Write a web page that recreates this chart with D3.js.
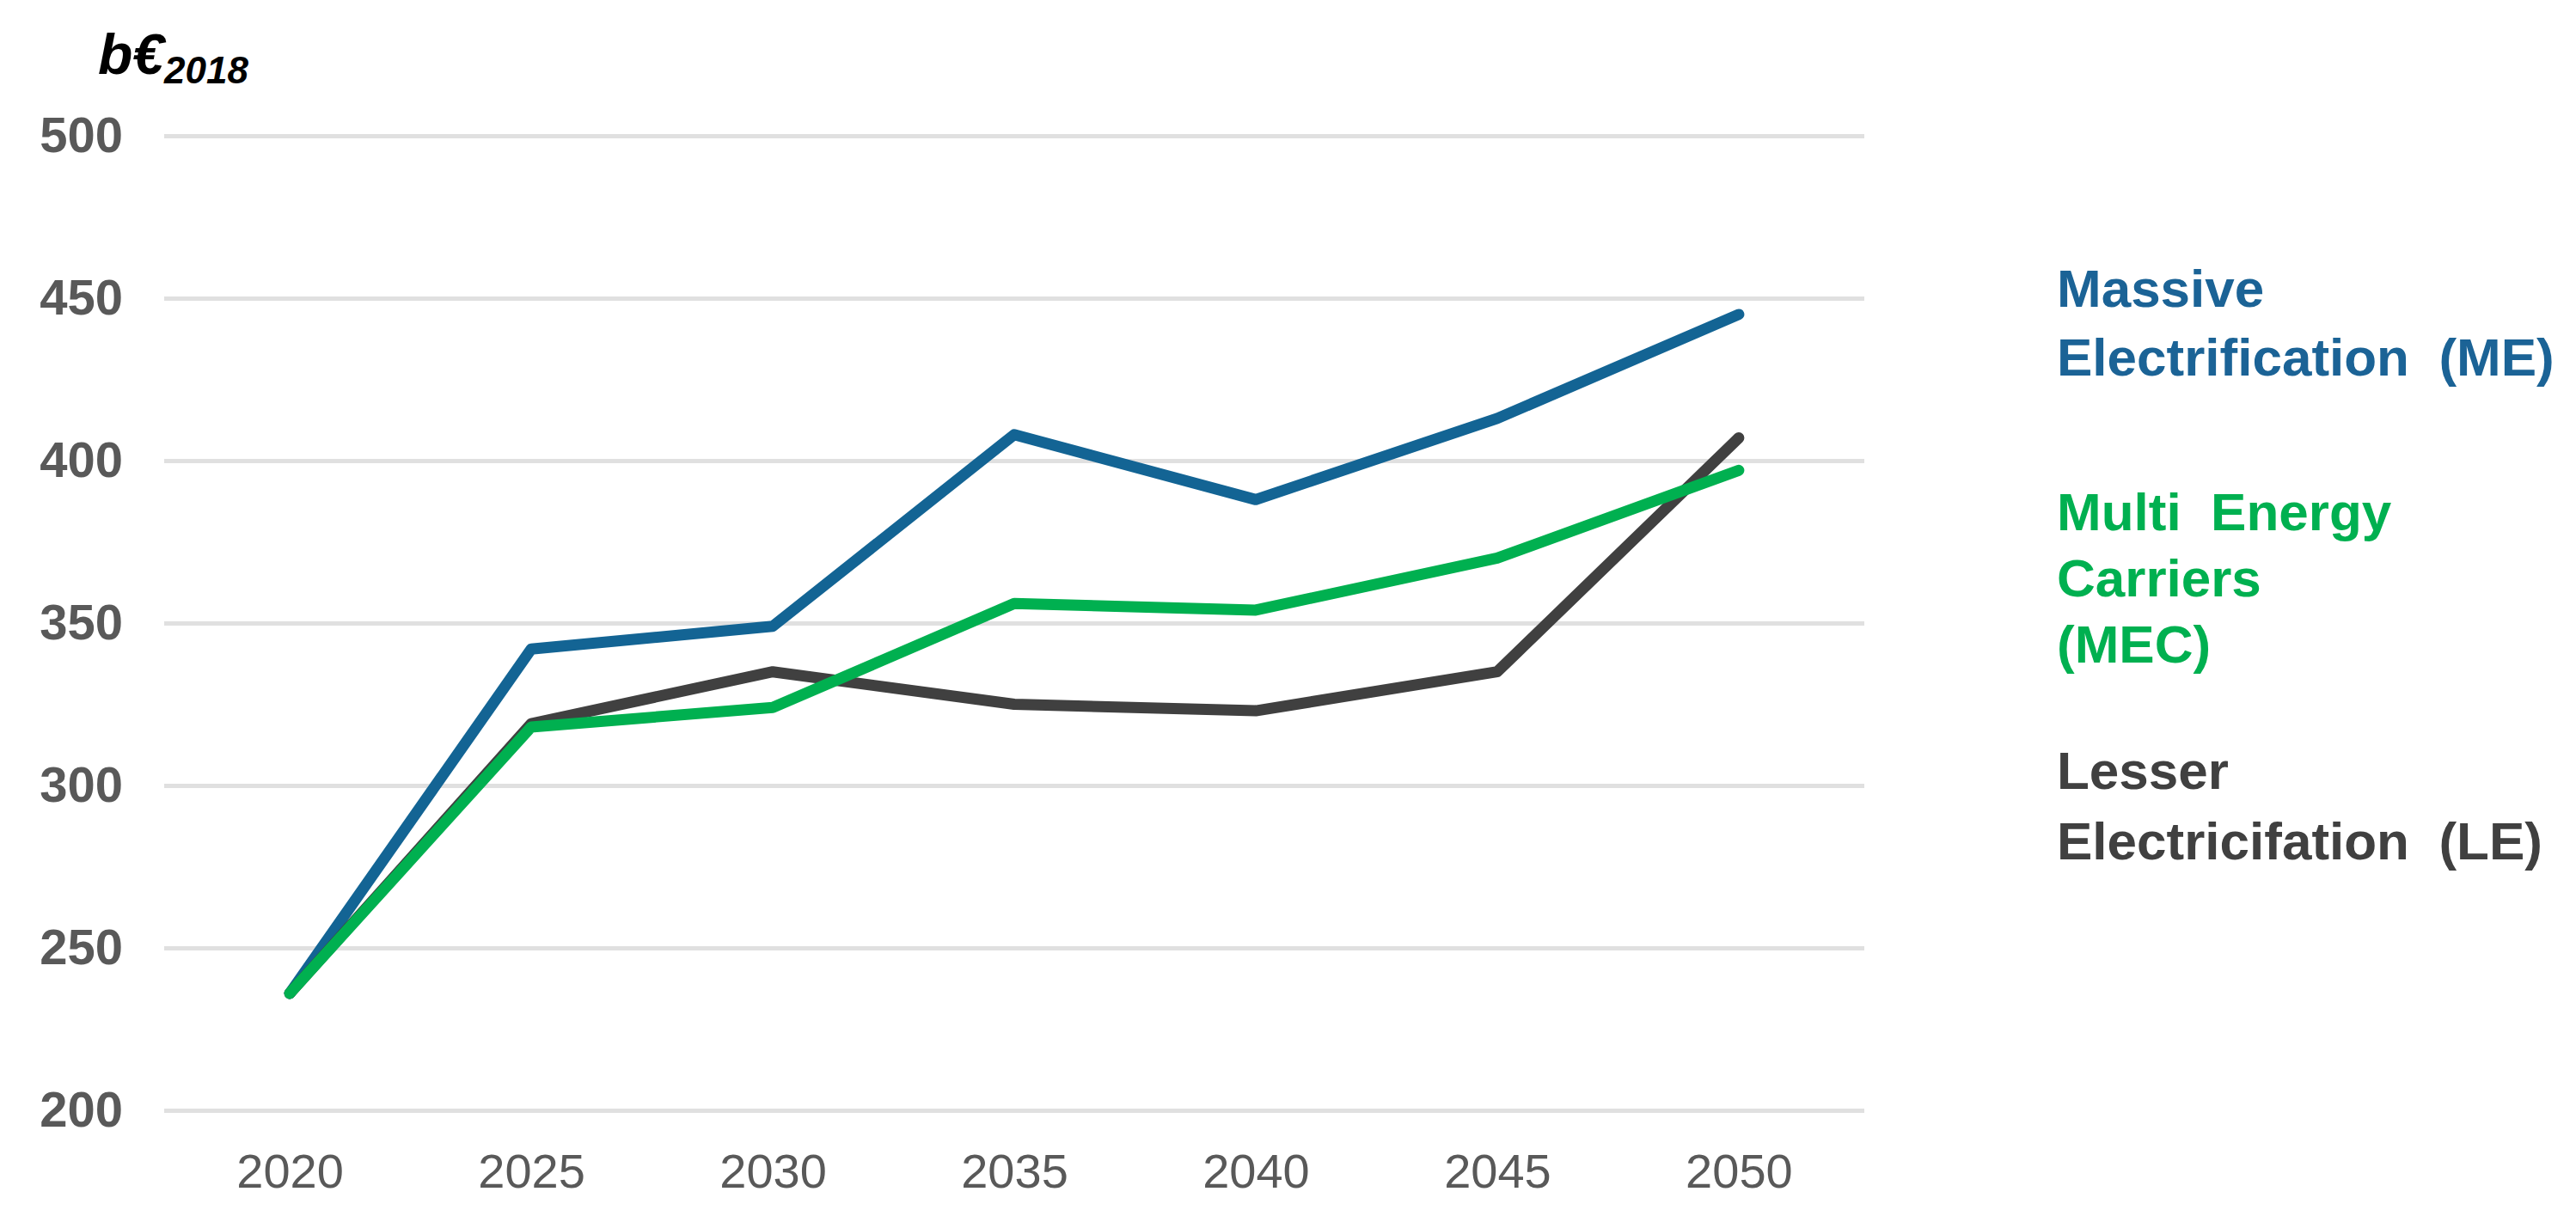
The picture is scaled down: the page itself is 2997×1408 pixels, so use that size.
<!DOCTYPE html>
<html>
<head>
<meta charset="utf-8">
<script src="https://cdn.jsdelivr.net/npm/d3@7"></script>
<style>
  body { margin: 0; background: #fff; }
  text { font-family: "Liberation Sans", Arial, sans-serif; }
</style>
</head>
<body>
<svg id="chart" width="2997" height="1408"></svg>
<script>
/// Data

var years = ["2020", "2025", "2030", "2035", "2040", "2045", "2050"];
var yTicks = [200, 250, 300, 350, 400, 450, 500];

var massiveElec = [236, 342, 349, 408, 388, 413, 445];   // ME
var lesserElec = [236, 319, 335, 325, 323, 335, 407];    // LE
var multiEnergy = [236, 318, 324, 356, 354, 370, 397];   // MEC

var seriesValues = [massiveElec, lesserElec, multiEnergy];
var seriesColors = ["#136494", "#404040", "#00b050"];

var legendLines = [
  ["Massive", "Electrification  (ME)"],
  ["Multi  Energy", "Carriers", "(MEC)"],
  ["Lesser", "Electricifation  (LE)"]
];
var legendColors = ["#1b6396", "#00b050", "#404040"];


/// Scales

var svg = d3.select("#chart");
var plotLeft = 191, plotRight = 2169, plotTop = 158, plotBottom = 1292;

var x = d3.scalePoint().domain(years).range([plotLeft, plotRight]).padding(0.52);
var y = d3.scaleLinear().domain([200, 500]).range([plotBottom, plotTop]);


/// Axes + grid

var yAxis = svg.append("g")
  .attr("transform", "translate(" + plotLeft + ",0)")
  .call(d3.axisLeft(y).tickValues(yTicks).tickSize(-(plotRight - plotLeft)).tickPadding(48));
yAxis.select(".domain").remove();
yAxis.selectAll(".tick line").attr("stroke", "#e0e0e0").attr("stroke-width", 5);
yAxis.selectAll(".tick text")
  .attr("fill", "#595959")
  .style("font-size", "58px")
  .style("font-weight", "bold")
  .style("font-family", "Liberation Sans, Arial, sans-serif");

var xAxis = svg.append("g")
  .attr("transform", "translate(0," + plotBottom + ")")
  .call(d3.axisBottom(x).tickSize(0).tickPadding(50));
xAxis.select(".domain").remove();
xAxis.selectAll(".tick text")
  .attr("fill", "#595959")
  .style("font-size", "56px")
  .style("font-family", "Liberation Sans, Arial, sans-serif");


/// Lines

var line = d3.line()
  .x(function(d, i){ return x(years[i]); })
  .y(function(d){ return y(d); });

seriesValues.forEach(function(vals, k){
  svg.append("path")
    .datum(vals)
    .attr("d", line)
    .attr("fill", "none")
    .attr("stroke", seriesColors[k])
    .attr("stroke-width", 13)
    .attr("stroke-linejoin", "round")
    .attr("stroke-linecap", "round");
});


/// Unit label

var unit = svg.append("text")
  .attr("x", 114)
  .attr("y", 86)
  .attr("fill", "#000")
  .style("font-weight", "bold")
  .style("font-style", "italic");
unit.append("tspan").style("font-size", "66px").text("b€");
unit.append("tspan").style("font-size", "44px").attr("dy", 11).text("2018");


/// Legend

var legendBaselines = [[357, 437], [617, 694, 771], [918, 1000]];
legendLines.forEach(function(lines, k){
  lines.forEach(function(t, j){
    svg.append("text")
      .attr("x", 2393)
      .attr("y", legendBaselines[k][j])
      .attr("fill", legendColors[k])
      .attr("xml:space", "preserve")
      .style("white-space", "pre")
      .style("font-size", "62px")
      .style("font-weight", "bold")
      .text(t);
  });
});
</script>
</body>
</html>
